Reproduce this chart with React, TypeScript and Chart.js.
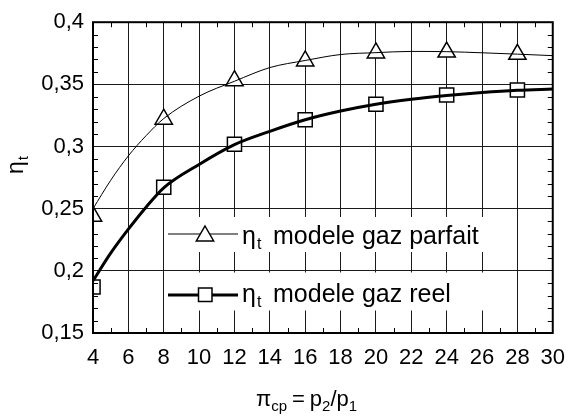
import { useEffect, useRef } from "react";
import { Chart, registerables } from "chart.js";

Chart.register(...registerables);

// ---- data ----
const markerX = [4, 8, 12, 16, 20, 24, 28];
const parfaitMarkers = [0.244, 0.322, 0.353, 0.3688, 0.3753, 0.376, 0.3742];
const reelMarkers = [0.187, 0.2672, 0.3018, 0.3215, 0.334, 0.3414, 0.3455];

const curveX = [4, 5, 6, 7, 8, 10, 12, 14, 16, 18, 20, 22, 24, 26, 28, 30];
const parfaitCurve = [0.25, 0.2728, 0.2925, 0.3087, 0.3225, 0.3405, 0.3525, 0.3635, 0.3692, 0.374, 0.3755, 0.3765, 0.3763, 0.3754, 0.3743, 0.3731];
const reelCurve = [0.192, 0.2142, 0.2335, 0.2512, 0.2668, 0.2856, 0.3015, 0.3122, 0.3215, 0.3285, 0.334, 0.338, 0.341, 0.3434, 0.3452, 0.3462];

const xMinorTicks = [5, 7, 9, 11, 13, 15, 17, 19, 21, 23, 25, 27, 29];
const yMinorTicks = [
  0.16, 0.17, 0.18, 0.19, 0.21, 0.22, 0.23, 0.24, 0.26, 0.27, 0.28, 0.29,
  0.31, 0.32, 0.33, 0.34, 0.36, 0.37, 0.38, 0.39,
];

const legendLabels = ["modele gaz parfait", "modele gaz reel"];
const etaSymbol = "η";
const etaSub = "t";

const FONT = "'Liberation Sans', Arial, Helvetica, sans-serif";

type Part = { text: string; size: number; dy: number; gapAfter?: number };

function drawParts(ctx: CanvasRenderingContext2D, parts: Part[], x: number, y: number, spacing = 0) {
  let cx = x;
  for (const p of parts) {
    ctx.font = `${p.size}px ${FONT}`;
    if (spacing === 0) {
      ctx.fillText(p.text, cx, y + p.dy);
      cx += ctx.measureText(p.text).width;
    } else {
      for (const ch of p.text) {
        ctx.fillText(ch, cx, y + p.dy);
        cx += ctx.measureText(ch).width + spacing;
      }
    }
    cx += p.gapAfter ?? 0;
  }
  return cx;
}

const decorPlugin = {
  id: "decor",
  beforeDatasetsDraw(chart: any) {
    const ctx: CanvasRenderingContext2D = chart.ctx;
    ctx.save();
    ctx.fillStyle = "#ffffff";
    // white backgrounds behind the legend rows
    ctx.fillRect(167, 217, 349, 35);
    ctx.fillRect(167, 272.5, 349, 38);
    ctx.restore();
  },
  afterDraw(chart: any) {
    const ctx: CanvasRenderingContext2D = chart.ctx;
    const area = chart.chartArea;
    const xs = chart.scales.x;
    const ys = chart.scales.y;
    ctx.save();
    ctx.strokeStyle = "#000";
    ctx.fillStyle = "#000";

    // minor inner ticks
    ctx.lineWidth = 1;
    const tl = 5;
    ctx.beginPath();
    for (const v of xMinorTicks) {
      const px = Math.round(xs.getPixelForValue(v)) + 0.5;
      ctx.moveTo(px, area.bottom);
      ctx.lineTo(px, area.bottom - tl);
      ctx.moveTo(px, area.top);
      ctx.lineTo(px, area.top + tl);
    }
    for (const v of yMinorTicks) {
      const py = Math.round(ys.getPixelForValue(v)) + 0.5;
      ctx.moveTo(area.left, py);
      ctx.lineTo(area.left + tl, py);
      ctx.moveTo(area.right, py);
      ctx.lineTo(area.right - tl, py);
    }
    ctx.stroke();

    // frame
    ctx.lineWidth = 2;
    ctx.strokeRect(area.left, area.top, area.right - area.left, area.bottom - area.top);

    // legend row 1 : thin line + triangle
    ctx.lineWidth = 1;
    ctx.beginPath();
    ctx.moveTo(168, 234);
    ctx.lineTo(238, 234);
    ctx.stroke();
    ctx.lineWidth = 1.5;
    ctx.beginPath();
    const tr = 10;
    const tcx = 205, tcy = 236;
    ctx.moveTo(tcx, tcy - tr);
    ctx.lineTo(tcx + tr * 0.866, tcy + tr * 0.5);
    ctx.lineTo(tcx - tr * 0.866, tcy + tr * 0.5);
    ctx.closePath();
    ctx.fillStyle = "#fff";
    ctx.fill();
    ctx.stroke();

    // legend row 2 : thick line + square
    ctx.lineWidth = 3;
    ctx.beginPath();
    ctx.moveTo(168, 295);
    ctx.lineTo(238, 295);
    ctx.stroke();
    ctx.lineWidth = 1.5;
    ctx.fillStyle = "#fff";
    ctx.fillRect(198.5, 288, 13.5, 13.5);
    ctx.strokeRect(198.5, 288, 13.5, 13.5);

    ctx.fillStyle = "#000";
    ctx.textBaseline = "alphabetic";
    ctx.textAlign = "left";
    const rowBase = [244, 302];
    legendLabels.forEach((lab, i) => {
      const x = drawParts(ctx, [{ text: etaSymbol, size: 25, dy: 0 }], 242, rowBase[i]);
      drawParts(ctx, [{ text: etaSub, size: 16, dy: 5 }], x + 1, rowBase[i]);
      drawParts(ctx, [{ text: lab, size: 25, dy: 0 }], 273, rowBase[i]);
    });

    // x axis title
    drawParts(
      ctx,
      [
        { text: "π", size: 22, dy: 0 },
        { text: "cp", size: 15, dy: 5, gapAfter: 5 },
        { text: "=", size: 22, dy: 0, gapAfter: 5 },
        { text: "p", size: 22, dy: 0 },
        { text: "2", size: 15, dy: 5 },
        { text: "/", size: 22, dy: 0 },
        { text: "p", size: 22, dy: 0 },
        { text: "1", size: 15, dy: 5 },
      ],
      256,
      406
    );

    // y axis title (rotated)
    ctx.translate(23, 174);
    ctx.rotate(-Math.PI / 2);
    const ex = drawParts(ctx, [{ text: etaSymbol, size: 23, dy: 0 }], 0, 0);
    drawParts(ctx, [{ text: etaSub, size: 15, dy: 5 }], ex + 1, 0);
    ctx.restore();
  },
};

export default function App() {
  const ref = useRef<HTMLCanvasElement | null>(null);

  useEffect(() => {
    if (!ref.current) return;
    const toPts = (xs: number[], ys: number[]) => xs.map((x, i) => ({ x, y: ys[i] }));
    const chart = new Chart(ref.current, {
      type: "scatter",
      data: {
        datasets: [
          {
            label: "parfait curve",
            data: toPts(curveX, parfaitCurve),
            showLine: true,
            borderColor: "#000",
            borderWidth: 1,
            pointRadius: 0,
            cubicInterpolationMode: "monotone",
            clip: 0,
          } as any,
          {
            label: "reel curve",
            data: toPts(curveX, reelCurve),
            showLine: true,
            borderColor: "#000",
            borderWidth: 3,
            pointRadius: 0,
            cubicInterpolationMode: "monotone",
            clip: 0,
          } as any,
          {
            label: "parfait markers",
            data: toPts(markerX, parfaitMarkers),
            showLine: false,
            pointStyle: "triangle",
            pointRadius: 10,
            pointBackgroundColor: "#fff",
            pointBorderColor: "#000",
            pointBorderWidth: 1.5,
            clip: 0,
          } as any,
          {
            label: "reel markers",
            data: toPts(markerX, reelMarkers),
            showLine: false,
            pointStyle: "rect",
            pointRadius: 10,
            pointBackgroundColor: "#fff",
            pointBorderColor: "#000",
            pointBorderWidth: 1.5,
            clip: 0,
          } as any,
        ],
      },
      options: {
        animation: false,
        responsive: true,
        maintainAspectRatio: false,
        layout: { padding: { left: 0, top: 21, right: 14, bottom: 0 } },
        plugins: {
          legend: { display: false },
          tooltip: { enabled: false },
          title: { display: false },
        },
        scales: {
          x: {
            type: "linear",
            min: 4,
            max: 30,
            ticks: {
              stepSize: 2,
              color: "#000",
              padding: 12,
              font: { family: FONT, size: 22 },
            },
            grid: { color: "#1a1a1a", lineWidth: 1, drawTicks: false },
            border: { display: false },
            afterFit: (s: any) => {
              s.height = 84;
            },
          },
          y: {
            type: "linear",
            min: 0.15,
            max: 0.4,
            ticks: {
              stepSize: 0.05,
              color: "#000",
              padding: 9,
              font: { family: FONT, size: 22 },
              callback: (v: any) => String(Number(Number(v).toFixed(2))).replace(".", ","),
            },
            grid: { color: "#1a1a1a", lineWidth: 1, drawTicks: false },
            border: { display: false },
            afterFit: (s: any) => {
              s.width = 93;
            },
          },
        },
      },
      plugins: [decorPlugin],
    });
    return () => chart.destroy();
  }, []);

  return (
    <div style={{ position: "fixed", left: 0, top: 0, width: 577, height: 417, background: "#fff" }}>
      <canvas ref={ref} />
    </div>
  );
}
